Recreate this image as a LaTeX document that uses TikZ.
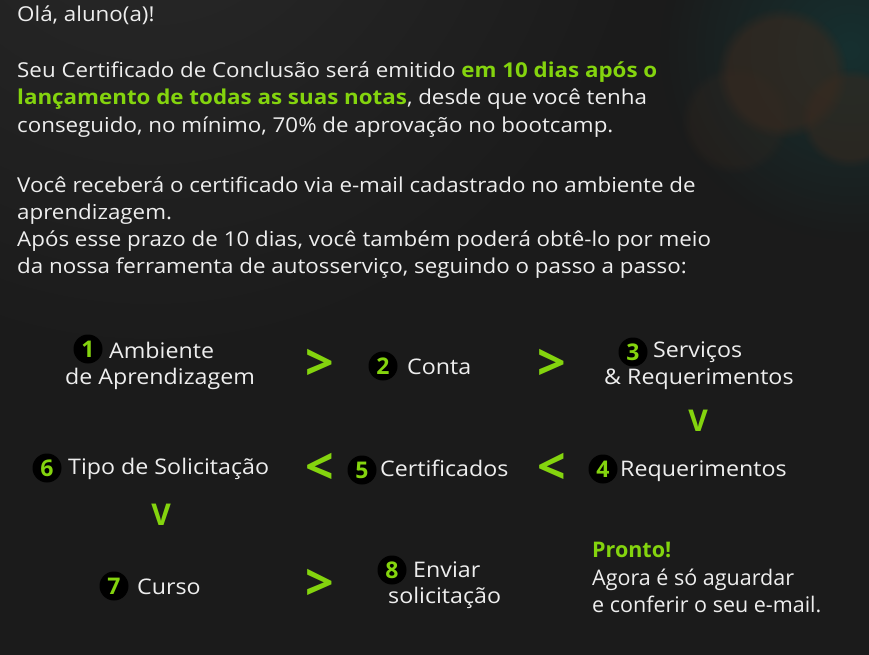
\documentclass[tikz,border=0pt]{standalone}
\usepackage{fontspec}
\IfFontExistsTF{Noto Sans Bold}
  {\setmainfont{Noto Sans}[BoldFont={Noto Sans Bold}]
   \newfontfamily\parafont{Noto Sans}[BoldFont={Noto Sans Bold}, FakeStretch=1.09]
   \newfontfamily\stepfont{Noto Sans}[BoldFont={Noto Sans Bold}, FakeStretch=1.08]}
  {\setmainfont{Open Sans}
   \newfontfamily\parafont{Open Sans}[FakeStretch=1.09]
   \newfontfamily\stepfont{Open Sans}[FakeStretch=1.08]}
\usepackage{xcolor}
\usetikzlibrary{positioning, fadings}
\definecolor{bgdark}{HTML}{1B1B1B}
\definecolor{bglight}{HTML}{2A2A2A}
\definecolor{lime}{HTML}{84D40E}
\definecolor{txtwhite}{HTML}{EEEEEE}
\definecolor{bokehbrown}{HTML}{3A2A20}
\definecolor{bokehteal}{HTML}{163030}
\tikzfading[name=bokehfade, inner color=transparent!0, outer color=transparent!100]
\newcommand{\hlt}[1]{\textcolor{lime}{\bfseries #1}}

\begin{document}
\begin{tikzpicture}[x=1pt, y=-1pt,
  para/.style={anchor=base west, text=txtwhite, inner sep=0pt, font=\parafont\fontsize{20.5}{27}\selectfont},
  stepnum/.style={circle, fill=black, text=lime, inner sep=0pt, minimum size=29pt, font=\fontsize{23}{23}\selectfont\bfseries},
  steplabel/.style={anchor=base west, text=txtwhite, inner sep=0pt, font=\stepfont\fontsize{21.5}{26}\selectfont},
  note/.style={anchor=base west, text=txtwhite, inner sep=0pt, font=\fontsize{21.5}{26}\selectfont},
  chev/.style={text=lime, inner sep=0pt, font=\fontsize{50}{50}\selectfont\bfseries},
  chevdown/.style={text=lime, inner sep=0pt, font=\fontsize{30}{30}\selectfont\bfseries},
  bokeh/.style={fill=bokehbrown, path fading=circle with fuzzy edge 20 percent, opacity=.6}]
  % Background
  \useasboundingbox (0,0) rectangle (869,655);
  \fill[bgdark] (0,0) rectangle (869,655);
  \fill[bglight, path fading=bokehfade] (150,-150) circle (520);
  % Bokeh lights
  \fill[bokehteal, path fading=bokehfade] (850,50) circle (190);
  \path[bokeh] (782,73) circle (66);
  \path[bokeh, opacity=.5] (850,118) circle (50);
  \path[bokeh, opacity=.25] (735,120) circle (55);
  % Introductory text
  \node[para] (hello) at (17,22) {Olá, aluno(a)!};
  \foreach \y/\txt [count=\i] in {
      78/{Seu Certificado de Conclusão será emitido \hlt{em 10 dias após o}},
      105/{\hlt{lançamento de todas as suas notas}, desde que você tenha},
      133/{conseguido, no mínimo, 70\% de aprovação no bootcamp.},
      192/{Você receberá o certificado via e-mail cadastrado no ambiente de},
      219/{aprendizagem.},
      246/{Após esse prazo de 10 dias, você também poderá obtê-lo por meio},
      273/{da nossa ferramenta de autosserviço, seguindo o passo a passo:}}
    \node[para] (line\i) at (17,\y) {\txt};
  % Row 1
  \node[stepnum] (n1) at (88,349) {1};
  \node[steplabel] (amb) at (109,358) {Ambiente};
  \node[steplabel] (apr) at (65,384) {de Aprendizagem};
  \node[chev] (c12) at (320,365) {>};
  \node[stepnum] (n2) at (383,366) {2};
  \node[steplabel] (conta) at (407,374) {Conta};
  \node[chev] (c23) at (552,365) {>};
  \node[stepnum] (n3) at (633,352) {3};
  \node[steplabel] (serv) at (653,357) {Serviços};
  \node[steplabel] (req) at (604,384) {\& Requerimentos};
  \node[chevdown] (c34) at (698,421) {V};
  % Row 2
  \node[stepnum] (n4) at (603,469) {4};
  \node[steplabel] (requer) at (620,476) {Requerimentos};
  \node[chev] (c45) at (552,469) {<};
  \node[stepnum] (n5) at (362,470) {5};
  \node[steplabel] (cert) at (380,476) {Certificados};
  \node[chev] (c56) at (320,469) {<};
  \node[stepnum] (n6) at (47,468) {6};
  \node[steplabel] (tipo) at (68,474) {Tipo de Solicitação};
  \node[chevdown] (c67) at (161,515) {V};
  % Row 3
  \node[stepnum] (n7) at (114,586) {7};
  \node[steplabel] (curso) at (137,594) {Curso};
  \node[chev] (c78) at (320,585) {>};
  \node[stepnum] (n8) at (392,570) {8};
  \node[steplabel] (env) at (413,577) {Enviar};
  \node[steplabel] (sol) at (388,603) {solicitação};
  % Closing note
  \node[note, text=lime, font=\fontsize{21.5}{26}\selectfont\bfseries] (pronto) at (592,557) {Pronto!};
  \node[note] (agora) at (592,585) {Agora é só aguardar};
  \node[note] (conf) at (592,612) {e conferir o seu e-mail.};
\end{tikzpicture}
\end{document}
